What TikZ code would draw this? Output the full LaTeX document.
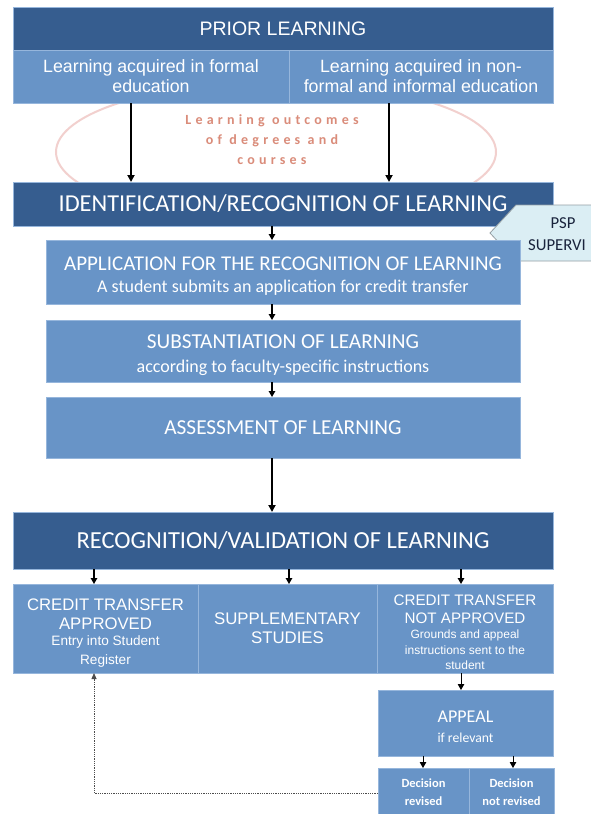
\documentclass[tikz,border=0pt]{standalone}
\usepackage{fontspec}
\setmainfont{Carlito}
\newfontfamily\arialf{Liberation Sans}
\newfontfamily\spacedf[LetterSpace=30]{Carlito}
\usetikzlibrary{arrows.meta}
\definecolor{darkb}{RGB}{54,93,143}
\definecolor{midb}{RGB}{104,148,199}
\definecolor{bordc}{RGB}{150,182,220}
\definecolor{pinkline}{RGB}{242,208,206}
\definecolor{pinktext}{RGB}{218,140,122}
\definecolor{pspfill}{RGB}{219,238,244}
\definecolor{pspdraw}{RGB}{150,160,165}
\definecolor{psptext}{RGB}{25,35,60}
\newcommand{\subA}{\fontsize{18}{20}\selectfont}
\newcommand{\subB}{\fontsize{13.6}{16}\selectfont}
\newcommand{\subC}{\fontsize{12}{15}\selectfont}
\newcommand{\upstrut}[1]{\rule{0pt}{#1}}
\tikzset{
  box/.style={rectangle, draw=bordc, line width=1pt, inner sep=0pt, outer sep=0pt,
    text=white, align=center, anchor=north west},
  darkbox/.style={box, fill=darkb},
  midbox/.style={box, fill=midb},
  arr/.style={-{Triangle[length=6pt,width=6.5pt]}, line width=1.3pt, black},
  bigarr/.style={-{Triangle[length=7pt,width=7pt]}, line width=2.4pt, black},
  dotarr/.style={-{Triangle[length=6pt,width=5pt]}, line width=0.8pt, black!70, densely dotted},
}
\begin{document}
\begin{tikzpicture}[x=1pt,y=-1pt]
\useasboundingbox (0,0) rectangle (590,814);
\fill[white] (0,0) rectangle (590,814);
% ellipse behind
\draw[pinkline, line width=2pt] (276,152) ellipse [x radius=220, y radius=70];
\node[text=pinktext, align=center, font=\spacedf\bfseries\fontsize{14}{20}\selectfont] (lo) at (272,140)
  {Learning outcomes\\of degrees and\\courses};
% top
\node[darkbox, minimum width=540pt, minimum height=43pt, font=\arialf\fontsize{19.5}{22}\selectfont] (prior) at (13,7) {PRIOR LEARNING};
\node[midbox, minimum width=276pt, minimum height=53pt, font=\arialf\fontsize{17.8}{20}\selectfont] (formal) at (13,50) {Learning acquired in formal\\education};
\node[midbox, minimum width=264pt, minimum height=53pt, font=\arialf\fontsize{17.8}{20}\selectfont] (nonformal) at (289,50) {Learning acquired in non-\\formal and informal education};
% identification
\node[darkbox, minimum width=540pt, minimum height=44pt, font=\fontsize{24.3}{26}\selectfont] (ident) at (13,182) {IDENTIFICATION/RECOGNITION OF LEARNING};
\coordinate (a1) at (131,0);
\coordinate (a2) at (389,0);
\draw[bigarr] (formal.south -| a1) -- (ident.north -| a1);
\draw[bigarr] (nonformal.south -| a2) -- (ident.north -| a2);
% PSP signal
\draw[pspdraw, fill=pspfill, line width=0.8pt] (490,233) -- (516,205) -- (600,205) -- (600,261) -- (516,261) -- cycle;
\node[text=psptext, font=\fontsize{16.7}{18}\selectfont] (psp) at (563,223) {PSP};
\node[text=psptext, font=\fontsize{16.7}{18}\selectfont, anchor=west, inner sep=0pt] (supervi) at (528,245) {SUPERVI};
% steps
\node[midbox, minimum width=474pt, minimum height=64pt, font=\fontsize{21}{22}\selectfont] (appl) at (46,240)
  {\upstrut{22pt}APPLICATION FOR THE RECOGNITION OF LEARNING\\\subA A student submits an application for credit transfer};
\node[midbox, minimum width=474pt, minimum height=62pt, font=\fontsize{21.3}{22}\selectfont] (subst) at (46,320)
  {\upstrut{22pt}SUBSTANTIATION OF LEARNING\\[2pt]\subA according to faculty-specific instructions};
\node[midbox, minimum width=474pt, minimum height=61pt, font=\fontsize{21.3}{22}\selectfont] (assess) at (46,397)
  {ASSESSMENT OF LEARNING};
\node[darkbox, minimum width=540pt, minimum height=57pt, font=\fontsize{24.5}{26}\selectfont] (recog) at (13,512) {RECOGNITION/VALIDATION OF LEARNING};
\coordinate (c1) at (272,0);
\draw[arr] (ident.south -| c1) -- (appl.north -| c1);
\draw[arr] (appl.south -| c1) -- (subst.north -| c1);
\draw[arr] (subst.south -| c1) -- (assess.north -| c1);
\draw[bigarr] (assess.south -| c1) -- (recog.north -| c1);
% bottom row
\node[midbox, minimum width=185pt, minimum height=89pt, font=\arialf\fontsize{16.7}{19}\selectfont] (appr) at (13,584)
  {\upstrut{20pt}CREDIT TRANSFER\\APPROVED\\[-3pt]\subB Entry into Student\\\subB Register};
\node[midbox, minimum width=179pt, minimum height=89pt, font=\arialf\fontsize{16.8}{19}\selectfont] (supp) at (198,584)
  {SUPPLEMENTARY\\STUDIES};
\node[midbox, minimum width=176pt, minimum height=89pt, font=\arialf\fontsize{15.2}{17.5}\selectfont] (notappr) at (377,584)
  {\upstrut{19pt}CREDIT TRANSFER\\NOT APPROVED\\[-2pt]\subC Grounds and appeal\\[-2pt]\subC instructions sent to the\\[-2pt]\subC student};
\coordinate (b1) at (94,0);
\coordinate (b2) at (289,0);
\coordinate (b3) at (461,0);
\draw[arr] (recog.south -| b1) -- (appr.north -| b1);
\draw[arr] (recog.south -| b2) -- (supp.north -| b2);
\draw[arr] (recog.south -| b3) -- (notappr.north -| b3);
% appeal
\node[midbox, minimum width=175pt, minimum height=66pt, font=\fontsize{18}{20}\selectfont] (appeal) at (378,690)
  {\upstrut{20pt}APPEAL\\\fontsize{13.7}{16}\selectfont if relevant};
\draw[arr, line width=1pt] (notappr.south -| b3) -- (appeal.north -| b3);
\node[midbox, minimum width=91pt, minimum height=48pt, font=\bfseries\fontsize{12.5}{18}\selectfont] (rev) at (378,768)
  {Decision\\revised};
\node[midbox, minimum width=85pt, minimum height=48pt, font=\bfseries\fontsize{12.5}{18}\selectfont] (notrev) at (469,768)
  {Decision\\not revised};
\coordinate (d1) at (423,0);
\coordinate (d2) at (513,0);
\draw[arr, line width=1pt] (appeal.south -| d1) -- (rev.north -| d1);
\draw[arr, line width=1pt] (appeal.south -| d2) -- (notrev.north -| d2);
% dotted return
\coordinate (e1) at (94,793);
\draw[dotarr] (rev.west |- e1) -- (e1) -- (appr.south -| e1);
\end{tikzpicture}
\end{document}
